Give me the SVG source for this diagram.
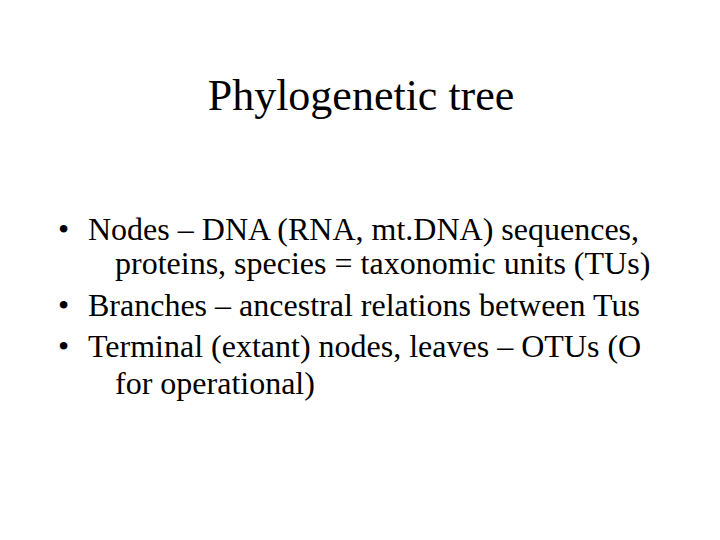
<svg xmlns="http://www.w3.org/2000/svg" width="720" height="540" viewBox="0 0 720 540">
<style>
text{font-family:"Liberation Serif","Times New Roman",serif;fill:#000}
.t{font-size:44px}
.b{font-size:32px}
</style>
<rect width="720" height="540" fill="#fff"/>
<g id="title"><text class="t" x="361" y="110" text-anchor="middle">Phylogenetic tree</text></g>
<g id="bullets">
<text class="b" x="58" y="240">•</text>
<text class="b" x="88" y="240">Nodes – DNA (RNA, mt.DNA) sequences,</text>
<text class="b" x="115" y="274">proteins, species = taxonomic units (TUs)</text>
<text class="b" x="58" y="316">•</text>
<text class="b" x="88" y="316">Branches – ancestral relations between Tus</text>
<text class="b" x="58" y="357">•</text>
<text class="b" x="88" y="357">Terminal (extant) nodes, leaves – OTUs (O</text>
<text class="b" x="115" y="394">for operational)</text>
</g>
</svg>
